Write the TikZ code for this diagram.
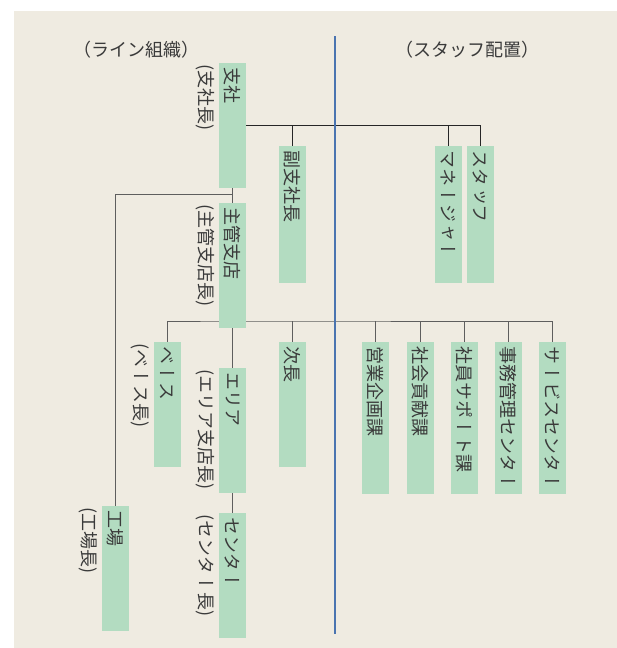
\documentclass[tikz,border=0pt]{standalone}
\usepackage{fontspec}
\newfontfamily\jpf{Noto Sans CJK JP}
\newfontfamily\vjpf[Vertical=RotatedGlyphs]{Noto Sans CJK JP}
\newcommand\lpar{{\jpf(}}
\newcommand\rpar{{\jpf)}}
\definecolor{bgc}{HTML}{EFEBE1}
\definecolor{boxg}{HTML}{B3DCC1}
\definecolor{lineg}{HTML}{5E5E5E}
\definecolor{blu}{HTML}{4A74B0}
\definecolor{txt}{HTML}{3A3A3A}
\pgfdeclarelayer{back}
\pgfdeclarelayer{lines}
\pgfsetlayers{back,lines,main}
\tikzset{
 orgbox/.style={fill=boxg, draw=none, inner sep=0pt, minimum width=27pt},
 vtext/.style={font=\vjpf\fontsize{18}{18}\selectfont, text=txt, inner sep=0pt, rotate=-90, anchor=west},
 htext/.style={font=\jpf\fontsize{18}{18}\selectfont, text=txt, inner sep=0pt},
 conn/.style={draw=lineg, line width=1pt},
 topline/.style={draw=black!85, line width=1pt},
 sidelabel/.style={vtext},
}
\begin{document}
\begin{tikzpicture}[x=1pt,y=-1pt]
\useasboundingbox (0,0) rectangle (617,648);
\begin{pgfonlayer}{back}
\fill[bgc] (14,11) rectangle (617,648);
\end{pgfonlayer}

% headers
\node[htext] (hline) at (136,50) {（ライン組織）};
\node[htext] (hstaff) at (467,50) {（スタッフ配置）};

% boxes
\node[orgbox, minimum height=125pt] (shisha) at (232.5,125.5) {};
\node[orgbox, minimum height=137pt] (fuku) at (292.5,214.5) {};
\node[orgbox, minimum height=137pt] (mgr) at (448.5,214.5) {};
\node[orgbox, minimum height=137pt] (staff) at (480.5,214.5) {};
\node[orgbox, minimum height=125pt] (shukan) at (232.5,265.5) {};
\node[orgbox, minimum height=125pt] (base) at (167.5,404.5) {};
\node[orgbox, minimum height=125pt] (area) at (232.5,430.5) {};
\node[orgbox, minimum height=125pt] (jicho) at (292.5,404.5) {};
\node[orgbox, minimum height=125pt] (center) at (232.5,575.5) {};
\node[orgbox, minimum height=125pt] (kojo) at (115.5,568.5) {};
\node[orgbox, minimum height=152pt] (eigyo) at (375.5,418) {};
\node[orgbox, minimum height=152pt] (shakai) at (420.5,418) {};
\node[orgbox, minimum height=152pt] (shain) at (464.5,418) {};
\node[orgbox, minimum height=152pt] (jimu) at (508.5,418) {};
\node[orgbox, minimum height=152pt] (service) at (552.5,418) {};

% box texts
\node[vtext] (t-shisha) at ([yshift=-4pt]shisha.north) {支社};
\node[vtext] (t-fuku) at ([yshift=-4pt]fuku.north) {副支社長};
\node[vtext] (t-mgr) at ([yshift=-4pt]mgr.north) {マネージャー};
\node[vtext] (t-staff) at ([yshift=-4pt]staff.north) {スタッフ};
\node[vtext] (t-shukan) at ([yshift=-4pt]shukan.north) {主管支店};
\node[vtext] (t-base) at ([yshift=-4pt]base.north) {ベース};
\node[vtext] (t-area) at ([yshift=-4pt]area.north) {エリア};
\node[vtext] (t-jicho) at ([yshift=-4pt]jicho.north) {次長};
\node[vtext] (t-center) at ([yshift=-4pt]center.north) {センター};
\node[vtext] (t-kojo) at ([yshift=-4pt]kojo.north) {工場};
\node[vtext] (t-eigyo) at ([yshift=-4pt]eigyo.north) {営業企画課};
\node[vtext] (t-shakai) at ([yshift=-4pt]shakai.north) {社会貢献課};
\node[vtext] (t-shain) at ([yshift=-4pt]shain.north) {社員サポート課};
\node[vtext] (t-jimu) at ([yshift=-4pt]jimu.north) {事務管理センター};
\node[vtext] (t-service) at ([yshift=-4pt]service.north) {サービスセンター};

% side labels
\node[sidelabel] (l-shisha) at ([xshift=-13.5pt,yshift=-1pt]shisha.north west) {\lpar 支社長\rpar};
\node[sidelabel] (l-shukan) at ([xshift=-13.5pt,yshift=-1pt]shukan.north west) {\lpar 主管支店長\rpar};
\node[sidelabel] (l-base) at ([xshift=-13.5pt,yshift=-1pt]base.north west) {\lpar ベース長\rpar};
\node[sidelabel] (l-area) at ([xshift=-13.5pt,yshift=-1pt]area.north west) {\lpar エリア支店長\rpar};
\node[sidelabel] (l-center) at ([xshift=-13.5pt,yshift=-1pt]center.north west) {\lpar センター長\rpar};
\node[sidelabel] (l-kojo) at ([xshift=-13.5pt,yshift=-1pt]kojo.north west) {\lpar 工場長\rpar};

% connectors
\coordinate (kj) at (232.5,194);
\coordinate (h2) at (232.5,321);
\begin{pgfonlayer}{lines}
\draw[topline] (shisha.east) -| (staff.north);
\draw[topline] (fuku.north) -- (fuku.north |- shisha.east);
\draw[topline] (mgr.north) -- (mgr.north |- shisha.east);
\draw[conn] (shisha.south) -- (shukan.north);
\draw[conn] (kj) -| (kojo.north);
\draw[conn] (base.north) |- (h2) -| (service.north);
\foreach \n in {jicho,eigyo,shakai,shain,jimu}
  \draw[conn] (\n.north) -- (\n.north |- h2);
\draw[conn] (shukan.south) -- (area.north);
\draw[conn] (area.south) -- (center.north);
\end{pgfonlayer}

% divider
\coordinate (dtop) at (335,36);
\coordinate (dbot) at (335,634);
\draw[blu, line width=2pt] (dtop) -- (dbot);
\end{tikzpicture}
\end{document}
